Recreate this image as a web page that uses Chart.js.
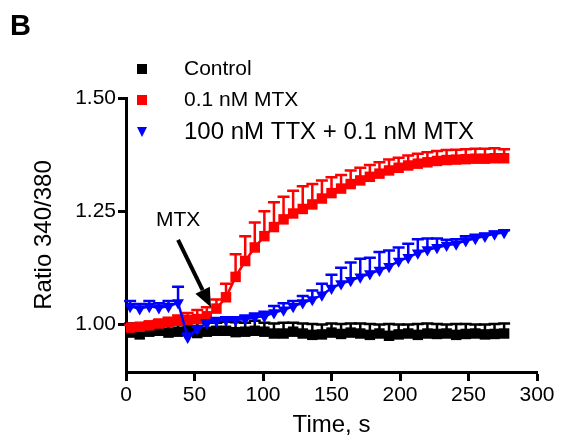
<!DOCTYPE html>
<html lang="en">
<head>
<meta charset="UTF-8">
<title>Ratio 340/380 vs time</title>
<style>
    body { margin: 0; background: #ffffff; }
    #wrap { position: relative; width: 562px; height: 446px; }
</style>
</head>
<body>
<div id="wrap"><canvas id="chart" width="562" height="446"></canvas></div>
<script src="https://cdn.jsdelivr.net/npm/chart.js"></script>
<script>
const FONT = 'Arial, "Liberation Sans", sans-serif';

// time points, s
const times = [3, 10, 17, 24, 31, 38, 45, 52, 59, 66, 73, 80, 87, 94, 101, 108, 115, 122, 129, 136,
               143, 150, 157, 164, 171, 178, 185, 192, 199, 206, 213, 220, 227, 234, 241, 248, 255, 262, 269, 276];

const controlMean = [0.982, 0.978, 0.984, 0.986, 0.982, 0.984, 0.988, 0.981, 0.984, 0.986,
                     0.986, 0.983, 0.984, 0.986, 0.984, 0.980, 0.980, 0.984, 0.980, 0.977,
                     0.978, 0.982, 0.979, 0.982, 0.980, 0.977, 0.980, 0.975, 0.978, 0.980,
                     0.977, 0.980, 0.979, 0.980, 0.977, 0.979, 0.980, 0.978, 0.979, 0.980];
const controlSem = [0.020, 0.018, 0.020, 0.022, 0.020, 0.018, 0.020, 0.022, 0.020, 0.018,
                    0.020, 0.022, 0.020, 0.022, 0.020, 0.022, 0.024, 0.020, 0.022, 0.024,
                    0.022, 0.020, 0.022, 0.020, 0.022, 0.024, 0.020, 0.026, 0.022, 0.020,
                    0.024, 0.022, 0.022, 0.020, 0.024, 0.022, 0.020, 0.022, 0.022, 0.022];

const mtxMean = [0.993, 0.995, 0.998, 1.002, 1.005, 1.008, 1.010, 1.012, 1.018, 1.035,
                 1.060, 1.105, 1.140, 1.170, 1.195, 1.215, 1.232, 1.245, 1.255, 1.265,
                 1.278, 1.290, 1.300, 1.310, 1.318, 1.326, 1.333, 1.340, 1.346, 1.351,
                 1.355, 1.358, 1.361, 1.363, 1.364, 1.365, 1.366, 1.366, 1.367, 1.367];
const mtxSem = [0.006, 0.006, 0.008, 0.008, 0.010, 0.012, 0.015, 0.020, 0.020, 0.020,
                0.030, 0.050, 0.055, 0.055, 0.055, 0.055, 0.050, 0.050, 0.050, 0.045,
                0.040, 0.035, 0.030, 0.030, 0.028, 0.026, 0.025, 0.024, 0.022, 0.022,
                0.022, 0.022, 0.022, 0.022, 0.022, 0.022, 0.022, 0.022, 0.022, 0.020];

const ttxMean = [1.040, 1.035, 1.040, 1.037, 1.040, 1.048, 0.972, 0.990, 1.003, 1.008,
                 1.010, 1.010, 1.012, 1.016, 1.018, 1.026, 1.032, 1.040, 1.048, 1.055,
                 1.065, 1.080, 1.090, 1.097, 1.105, 1.112, 1.120, 1.128, 1.140, 1.148,
                 1.158, 1.165, 1.170, 1.175, 1.178, 1.185, 1.190, 1.195, 1.200, 1.203];
const ttxSem = [0.012, 0.010, 0.012, 0.010, 0.012, 0.035, 0.008, 0.006, 0.006, 0.006,
                0.006, 0.006, 0.008, 0.008, 0.010, 0.015, 0.015, 0.012, 0.015, 0.020,
                0.025, 0.030, 0.035, 0.040, 0.040, 0.035, 0.040, 0.035, 0.030, 0.030,
                0.030, 0.025, 0.020, 0.012, 0.010, 0.010, 0.008, 0.006, 0.005, 0.005];

const yTicks = [1.00, 1.25, 1.50];

function points(means) {
    return times.map((t, i) => ({ x: t, y: means[i] }));
}

// draws upward SEM bars just before each dataset's own line and markers
const errorBars = {
    id: 'errorBars',
    beforeDatasetDraw(chart, args) {
        const ds = chart.data.datasets[args.index];
        if (!ds.sem) return;
        const xs = chart.scales.x, ys = chart.scales.y, ctx = chart.ctx;
        ctx.save();
        ctx.strokeStyle = ds.borderColor;
        ctx.lineWidth = 2.5;
        ds.data.forEach((p, i) => {
            const px = xs.getPixelForValue(p.x);
            const py = ys.getPixelForValue(p.y);
            const top = ys.getPixelForValue(p.y + ds.sem[i]);
            ctx.beginPath();
            ctx.moveTo(px, py);
            ctx.lineTo(px, top);
            ctx.moveTo(px - 6, top);
            ctx.lineTo(px + 6, top);
            ctx.stroke();
        });
        ctx.restore();
    }
};

// panel letter, legend and the MTX arrow
const extras = {
    id: 'extras',
    afterDraw(chart) {
        const ctx = chart.ctx;
        const xs = chart.scales.x, ys = chart.scales.y;
        ctx.save();
        ctx.fillStyle = '#000';
        ctx.textBaseline = 'middle';
        ctx.font = 'bold 29px ' + FONT;
        ctx.fillText('B', 10, 27);

        const items = [
            { label: 'Control', color: '#000000', shape: 'rect', y: 69, size: 21 },
            { label: '0.1 nM MTX', color: '#ff0000', shape: 'rect', y: 100, size: 21 },
            { label: '100 nM TTX + 0.1 nM MTX', color: '#0000ff', shape: 'tri', y: 132, size: 24 }
        ];
        items.forEach(it => {
            ctx.fillStyle = it.color;
            if (it.shape === 'rect') {
                ctx.fillRect(142 - 5, it.y - 5, 10, 10);
            } else {
                ctx.beginPath();
                ctx.moveTo(137, it.y - 5);
                ctx.lineTo(147, it.y - 5);
                ctx.lineTo(142, it.y + 5);
                ctx.closePath();
                ctx.fill();
            }
            ctx.fillStyle = '#000';
            ctx.font = it.size + 'px ' + FONT;
            ctx.fillText(it.label, 184, it.y);
        });

        // MTX application arrow
        const x0 = xs.getPixelForValue(38), y0 = ys.getPixelForValue(1.187);
        const x1 = xs.getPixelForValue(62), y1 = ys.getPixelForValue(1.038);
        const ang = Math.atan2(y1 - y0, x1 - x0);
        const head = 19, half = 8;
        const bx = x1 - head * Math.cos(ang), by = y1 - head * Math.sin(ang);
        ctx.strokeStyle = '#000';
        ctx.lineWidth = 4;
        ctx.beginPath();
        ctx.moveTo(x0, y0);
        ctx.lineTo(bx, by);
        ctx.stroke();
        ctx.fillStyle = '#000';
        ctx.beginPath();
        ctx.moveTo(x1, y1);
        ctx.lineTo(bx + half * Math.sin(ang), by - half * Math.cos(ang));
        ctx.lineTo(bx - half * Math.sin(ang), by + half * Math.cos(ang));
        ctx.closePath();
        ctx.fill();
        ctx.font = '21px ' + FONT;
        ctx.textAlign = 'center';
        ctx.fillText('MTX', xs.getPixelForValue(38), ys.getPixelForValue(1.23));
        ctx.restore();
    }
};

new Chart(document.getElementById('chart'), {
    type: 'line',
    data: {
        datasets: [
            {
                label: '100 nM TTX + 0.1 nM MTX',
                data: points(ttxMean),
                sem: ttxSem,
                borderColor: '#0000ff',
                backgroundColor: '#0000ff',
                borderWidth: 2.5,
                pointStyle: 'triangle',
                rotation: 180,
                pointRadius: 6.8,
                pointBorderWidth: 0,
                order: 0
            },
            {
                label: '0.1 nM MTX',
                data: points(mtxMean),
                sem: mtxSem,
                borderColor: '#ff0000',
                backgroundColor: '#ff0000',
                borderWidth: 2.5,
                pointStyle: 'rect',
                pointRadius: 7.4,
                pointBorderWidth: 0,
                order: 1
            },
            {
                label: 'Control',
                data: points(controlMean),
                sem: controlSem,
                borderColor: '#000000',
                backgroundColor: '#000000',
                borderWidth: 2.5,
                pointStyle: 'rect',
                pointRadius: 7.4,
                pointBorderWidth: 0,
                order: 2
            }
        ]
    },
    options: {
        responsive: false,
        animation: false,
        layout: { padding: { left: 30, right: 25, top: 98, bottom: 6 } },
        plugins: {
            legend: { display: false },
            tooltip: { enabled: false }
        },
        scales: {
            x: {
                type: 'linear',
                min: 0,
                max: 300,
                ticks: { stepSize: 50, color: '#000', font: { family: FONT, size: 21 }, padding: 2, maxRotation: 0 },
                grid: { drawOnChartArea: false, drawTicks: true, tickLength: 9, tickWidth: 3, tickColor: '#000', color: '#000' },
                border: { display: true, width: 3, color: '#000' },
                title: { display: true, text: 'Time, s', color: '#000', font: { family: FONT, size: 24 }, padding: 0 },
                afterFit(scale) { scale.height = 68; }
            },
            y: {
                min: 0.895,
                max: 1.5,
                afterBuildTicks(scale) { scale.ticks = yTicks.map(v => ({ value: v })); },
                ticks: {
                    color: '#000', font: { family: FONT, size: 21 }, padding: 2,
                    callback: v => v.toFixed(2)
                },
                grid: { drawOnChartArea: false, drawTicks: true, tickLength: 8, tickWidth: 3, tickColor: '#000', color: '#000' },
                border: { display: true, width: 3, color: '#000' },
                title: { display: true, text: 'Ratio 340/380', color: '#000', font: { family: FONT, size: 24 }, padding: 0 },
                afterFit(scale) { scale.width = 96; }
            }
        }
    },
    plugins: [errorBars, extras]
});
</script>
</body>
</html>
